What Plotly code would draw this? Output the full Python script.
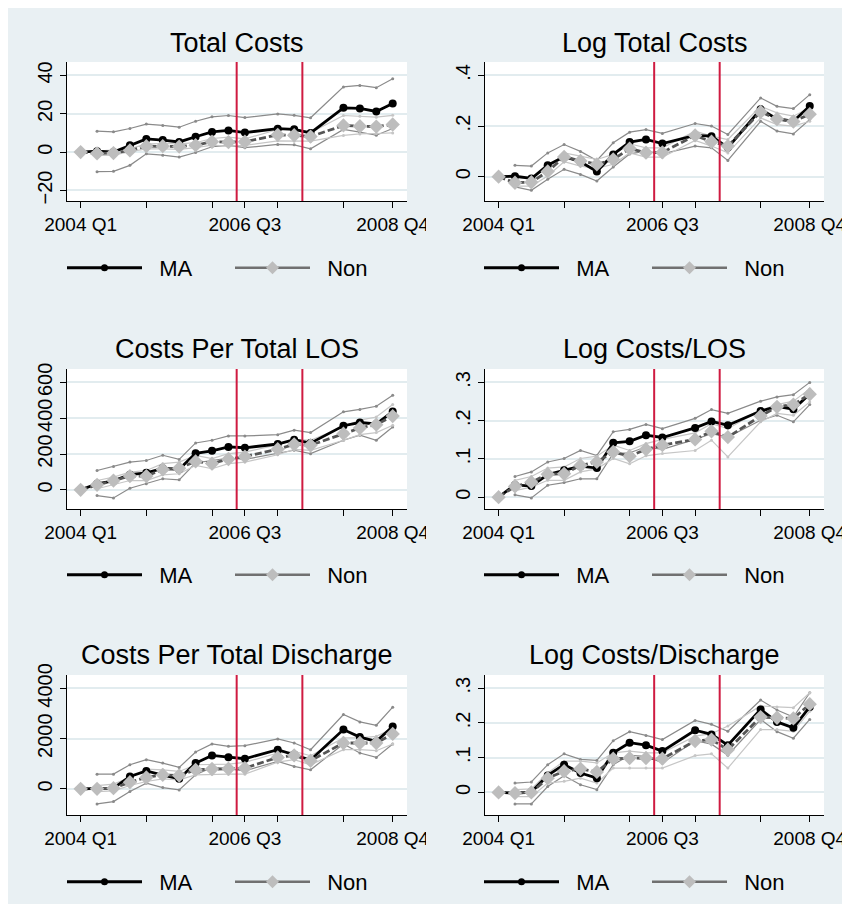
import plotly.graph_objects as go

# quarter index (0 = 2004 Q1); 2006 Q4 and 2007 Q4 are not in the data
quarters = [0, 1, 2, 3, 4, 5, 6, 7, 8, 9, 10, 12, 13, 14, 16, 17, 18, 19]
x_tickvals = [0, 4, 8, 10, 12, 16, 19]
x_ticktext = ['2004 Q1', '', '', '2006 Q3', '', '', '2008 Q4']
policy_quarters = [9.5, 13.5]

# Total Costs
tc_ma = [0, 0.5, 0, 3.6, 6.9, 6.3, 5.3, 8.0, 10.5, 11.3, 10.2, 12.2, 11.9, 10.0, 23.1, 22.8, 21.2, 25.3]
tc_non = [0, -0.7, -0.5, 0.9, 3.1, 3.1, 2.9, 3.6, 5.4, 5.2, 5.4, 9.0, 8.8, 8.1, 13.9, 13.5, 13.3, 14.4]
tc_ma_hi = [None, 10.9, 10.6, 12.3, 14.6, 13.9, 13.0, 16.1, 18.4, 19.1, 18.0, 19.9, 19.2, 17.9, 34.0, 34.8, 33.6, 38.3]
tc_ma_lo = [None, -10.2, -10.0, -6.9, -0.9, -1.6, -2.6, -0.2, 2.8, 3.5, 2.3, 4.0, 3.8, 1.7, 11.8, 10.4, 8.8, 12.3]
tc_non_hi = [None, 0.5, 1.0, 1.7, 4.3, 4.5, 4.3, 4.9, 7.1, 7.8, 6.9, 11.8, 12.0, 10.2, 19.1, 18.7, 18.2, 19.2]
tc_non_lo = [None, -1.7, -1.6, 0.2, 1.7, 1.7, 1.4, 2.3, 3.6, 3.1, 3.5, 5.9, 5.7, 5.7, 8.7, 9.5, 9.7, 10.0]

# Log Total Costs
ltc_ma = [0, 0.002, -0.007, 0.045, 0.079, 0.059, 0.021, 0.088, 0.137, 0.147, 0.131, 0.163, 0.160, 0.115, 0.266, 0.228, 0.219, 0.279]
ltc_non = [0, -0.024, -0.022, 0.021, 0.078, 0.062, 0.049, 0.068, 0.111, 0.095, 0.096, 0.163, 0.138, 0.121, 0.256, 0.228, 0.218, 0.247]
ltc_ma_hi = [None, 0.045, 0.042, 0.094, 0.127, 0.100, 0.064, 0.134, 0.176, 0.186, 0.171, 0.210, 0.200, 0.167, 0.311, 0.278, 0.269, 0.324]
ltc_ma_lo = [None, -0.040, -0.054, -0.010, 0.029, 0.009, -0.017, 0.038, 0.090, 0.101, 0.090, 0.121, 0.114, 0.064, 0.219, 0.180, 0.169, 0.226]
ltc_non_hi = [None, -0.010, -0.004, 0.035, 0.094, 0.081, 0.068, 0.088, 0.130, 0.114, 0.114, 0.180, 0.160, 0.147, 0.278, 0.252, 0.239, 0.272]
ltc_non_lo = [None, -0.037, -0.037, 0.003, 0.059, 0.042, 0.033, 0.049, 0.094, 0.077, 0.077, 0.143, 0.121, 0.094, 0.232, 0.206, 0.200, 0.219]

# Costs Per Total LOS
los_ma = [0, 34, 50, 85, 95, 120, 115, 204, 218, 240, 235, 256, 280, 261, 358, 376, 368, 437]
los_non = [0, 28, 52, 77, 77, 114, 121, 159, 147, 172, 186, 227, 254, 249, 314, 345, 364, 412]
los_ma_hi = [None, 108, 131, 155, 164, 193, 170, 262, 277, 301, 301, 308, 333, 320, 436, 449, 467, 529]
los_ma_lo = [None, -32, -45, 9, 34, 62, 56, 151, 164, 178, 170, 202, 221, 202, 277, 305, 277, 351]
los_non_hi = [None, 52, 71, 99, 108, 146, 155, 193, 174, 202, 211, 252, 282, 277, 351, 389, 407, 477]
los_non_lo = [None, 6, 28, 52, 52, 84, 90, 136, 118, 146, 155, 196, 226, 221, 277, 308, 320, 361]

# Log Costs/LOS
llos_ma = [0, 0.032, 0.029, 0.059, 0.070, 0.081, 0.076, 0.142, 0.146, 0.162, 0.156, 0.181, 0.198, 0.188, 0.225, 0.237, 0.230, 0.270]
llos_non = [0, 0.028, 0.039, 0.060, 0.061, 0.083, 0.092, 0.118, 0.107, 0.125, 0.136, 0.151, 0.172, 0.157, 0.212, 0.236, 0.242, 0.269]
llos_ma_hi = [None, 0.054, 0.066, 0.092, 0.101, 0.122, 0.109, 0.171, 0.177, 0.190, 0.179, 0.206, 0.229, 0.219, 0.251, 0.262, 0.268, 0.300]
llos_ma_lo = [None, 0.006, -0.002, 0.031, 0.038, 0.048, 0.048, 0.114, 0.116, 0.131, 0.125, 0.151, 0.166, 0.157, 0.201, 0.214, 0.197, 0.242]
llos_non_hi = [None, 0.044, 0.054, 0.076, 0.079, 0.101, 0.107, 0.136, 0.122, 0.140, 0.151, 0.168, 0.192, 0.179, 0.227, 0.242, 0.251, 0.283]
llos_non_lo = [None, 0.017, 0.026, 0.044, 0.044, 0.066, 0.074, 0.101, 0.087, 0.108, 0.114, 0.122, 0.149, 0.105, 0.197, 0.219, 0.214, 0.249]

# Costs Per Total Discharge
dis_ma = [0, 0, 27, 493, 715, 550, 400, 1027, 1333, 1260, 1200, 1560, 1370, 1150, 2360, 2060, 1890, 2480]
dis_non = [0, 0, 27, 267, 453, 560, 533, 760, 787, 800, 827, 1253, 1333, 1120, 1827, 1827, 1827, 2187]
dis_ma_hi = [None, 587, 587, 960, 1160, 1027, 853, 1467, 1787, 1693, 1720, 1987, 1827, 1560, 2960, 2667, 2533, 3253]
dis_ma_lo = [None, -600, -507, -107, 227, 53, -40, 560, 853, 800, 720, 1093, 893, 760, 1787, 1427, 1253, 1787]
dis_non_hi = [None, 133, 187, 453, 787, 760, 693, 960, 987, 987, 1053, 1427, 1493, 1320, 2027, 2027, 2093, 2400]
dis_non_lo = [None, -107, -80, 133, 293, 400, 360, 560, 587, 587, 587, 1067, 1160, 960, 1560, 1560, 1520, 1787]

# Log Costs/Discharge
ldis_ma = [0, -0.002, 0.001, 0.049, 0.080, 0.056, 0.041, 0.114, 0.143, 0.136, 0.119, 0.179, 0.167, 0.136, 0.239, 0.203, 0.186, 0.246]
ldis_non = [0, -0.002, 0, 0.041, 0.061, 0.068, 0.059, 0.097, 0.099, 0.099, 0.097, 0.148, 0.152, 0.123, 0.217, 0.215, 0.213, 0.254]
ldis_ma_hi = [None, 0.027, 0.030, 0.080, 0.111, 0.095, 0.092, 0.149, 0.175, 0.164, 0.152, 0.207, 0.196, 0.176, 0.266, 0.237, 0.217, 0.287]
ldis_ma_lo = [None, -0.033, -0.033, 0.017, 0.048, 0.022, 0.008, 0.080, 0.107, 0.104, 0.085, 0.149, 0.139, 0.107, 0.210, 0.175, 0.156, 0.210]
ldis_non_hi = [None, 0.008, 0.010, 0.056, 0.090, 0.090, 0.085, 0.114, 0.119, 0.114, 0.114, 0.162, 0.169, 0.191, 0.249, 0.246, 0.244, 0.287]
ldis_non_lo = [None, -0.012, -0.012, 0.027, 0.032, 0.041, 0.027, 0.070, 0.070, 0.070, 0.070, 0.106, 0.111, 0.070, 0.181, 0.181, 0.176, 0.234]

# y axis ticks per panel
tc_yticks, tc_ylabels = [-20, 0, 20, 40], ['\u221220', '0', '20', '40']
ltc_yticks, ltc_ylabels = [0, 0.2, 0.4], ['0', '.2', '.4']
los_yticks, los_ylabels = [0, 200, 400, 600], ['0', '200', '400', '600']
llos_yticks, llos_ylabels = [0, 0.1, 0.2, 0.3], ['0', '.1', '.2', '.3']
dis_yticks, dis_ylabels = [0, 2000, 4000], ['0', '2000', '4000']
ldis_yticks, ldis_ylabels = [0, 0.1, 0.2, 0.3], ['0', '.1', '.2', '.3']

panels = [
    ('Total Costs', tc_ma, tc_non, tc_ma_hi, tc_ma_lo, tc_non_hi, tc_non_lo, tc_yticks, tc_ylabels, [-25.5, 47]),
    ('Log Total Costs', ltc_ma, ltc_non, ltc_ma_hi, ltc_ma_lo, ltc_non_hi, ltc_non_lo, ltc_yticks, ltc_ylabels, [-0.096, 0.453]),
    ('Costs Per Total LOS', los_ma, los_non, los_ma_hi, los_ma_lo, los_non_hi, los_non_lo, los_yticks, los_ylabels, [-107, 675]),
    ('Log Costs/LOS', llos_ma, llos_non, llos_ma_hi, llos_ma_lo, llos_non_hi, llos_non_lo, llos_yticks, llos_ylabels, [-0.031, 0.335]),
    ('Costs Per Total Discharge', dis_ma, dis_non, dis_ma_hi, dis_ma_lo, dis_non_hi, dis_non_lo, dis_yticks, dis_ylabels, [-1040, 4533]),
    ('Log Costs/Discharge', ldis_ma, ldis_non, ldis_ma_hi, ldis_ma_lo, ldis_non_hi, ldis_non_lo, ldis_yticks, ldis_ylabels, [-0.065, 0.338]),
]

OFFSET = 8  # page body margin, which also gives the thin white frame
W, H = 850 - OFFSET, 904 - OFFSET
BG = '#e9f0f3'
GRID = '#e2ecef'
RED = '#cf1b41'
FONT = 'Liberation Sans, Arial, sans-serif'

# pixel boxes (page coordinates) of the plot regions
col_px = [(67, 407), (485, 824)]
row_px = [(62, 201), (369, 509), (675, 815)]
title_px = [43, 349, 655]
legend_px = [268, 575, 882]
legend_x_px = [62, 479]


def px_x(p):
    return (p - OFFSET) / W


def px_y(p):
    return 1 - (p - OFFSET) / H


fig = go.Figure()
layout = {}
shapes = []
annotations = []

for i, (title, ma, non, ma_hi, ma_lo, non_hi, non_lo, yticks, ylabels, yrange) in enumerate(panels):
    n = i + 1
    r, c = divmod(i, 2)
    sfx = '' if n == 1 else str(n)
    xa, ya = 'x' + sfx, 'y' + sfx
    leg = 'legend' + sfx

    # confidence bands
    for vals, col in [(ma_hi, '#8a8a8a'), (ma_lo, '#8a8a8a'), (non_hi, '#c6c6c6'), (non_lo, '#c6c6c6')]:
        fig.add_trace(go.Scatter(
            x=quarters, y=vals, mode='lines+markers', xaxis=xa, yaxis=ya,
            line=dict(color=col, width=1.2), marker=dict(color=col, size=3),
            showlegend=False, hoverinfo='skip'))

    fig.add_trace(go.Scatter(
        x=quarters, y=ma, mode='lines+markers', xaxis=xa, yaxis=ya, name='MA',
        line=dict(color='black', width=2.8), marker=dict(color='black', size=8),
        showlegend=False))
    fig.add_trace(go.Scatter(
        x=quarters, y=non, mode='lines+markers', xaxis=xa, yaxis=ya, name='Non',
        line=dict(color='#555555', width=2.8, dash='7px,3px'),
        marker=dict(color='#bdbdbd', size=11, symbol='diamond'),
        showlegend=False))

    # legend entries
    fig.add_trace(go.Scatter(
        x=[None], y=[None], mode='lines+markers', xaxis=xa, yaxis=ya, name='  MA',
        line=dict(color='black', width=3), marker=dict(color='black', size=7),
        legend=leg))
    fig.add_trace(go.Scatter(
        x=[None], y=[None], mode='lines+markers', xaxis=xa, yaxis=ya, name='  Non',
        line=dict(color='#707070', width=2.5), marker=dict(color='#bdbdbd', size=10, symbol='diamond'),
        legend=leg))

    x0, x1 = col_px[c]
    y0, y1 = row_px[r]
    layout['xaxis' + sfx] = dict(
        domain=[px_x(x0), px_x(x1)], anchor=ya, range=[-0.83, 19.87], automargin=False,
        tickvals=x_tickvals, ticktext=x_ticktext, ticks='outside', ticklen=6,
        tickcolor='black', showline=True, linecolor='black', linewidth=1,
        showgrid=False, zeroline=False, tickfont=dict(size=19, color='black'))
    layout['yaxis' + sfx] = dict(
        domain=[px_y(y1), px_y(y0)], anchor=xa, range=yrange, automargin=False,
        tickvals=yticks, ticktext=ylabels, tickangle=-90, ticks='outside', ticklen=6,
        tickcolor='black', showline=True, linecolor='black', linewidth=1,
        showgrid=True, gridcolor=GRID, gridwidth=1.5, zeroline=False,
        tickfont=dict(size=20, color='black'))
    layout[leg] = dict(
        orientation='h', x=px_x(legend_x_px[c]), xanchor='left',
        y=px_y(legend_px[r]), yanchor='middle', bgcolor='rgba(0,0,0,0)',
        font=dict(size=22, color='black'), itemwidth=75, entrywidth=78)

    for q in policy_quarters:
        shapes.append(dict(type='line', xref=xa, yref=ya + ' domain', x0=q, x1=q,
                           y0=0, y1=1, line=dict(color=RED, width=2)))

    annotations.append(dict(text=title, x=(px_x(x0) + px_x(x1)) / 2, y=px_y(title_px[r]),
                            xref='paper', yref='paper', xanchor='center', yanchor='middle',
                            showarrow=False, font=dict(size=27, color='black')))

    if c == 0:
        # the left column's last tick label is cut at the panel edge
        shapes.append(dict(type='rect', xref='paper', yref='paper', layer='above',
                           x0=px_x(426), x1=px_x(438), y0=px_y(y1 + 40), y1=px_y(y1 + 8),
                           fillcolor=BG, line=dict(width=0)))

fig.update_layout(
    **layout,
    shapes=shapes,
    annotations=annotations,
    width=W, height=H,
    margin=dict(l=0, r=0, t=0, b=0),
    paper_bgcolor=BG,
    plot_bgcolor='white',
    font=dict(family=FONT, color='black'),
    hovermode=False,
)

fig.write_html("out.html")
